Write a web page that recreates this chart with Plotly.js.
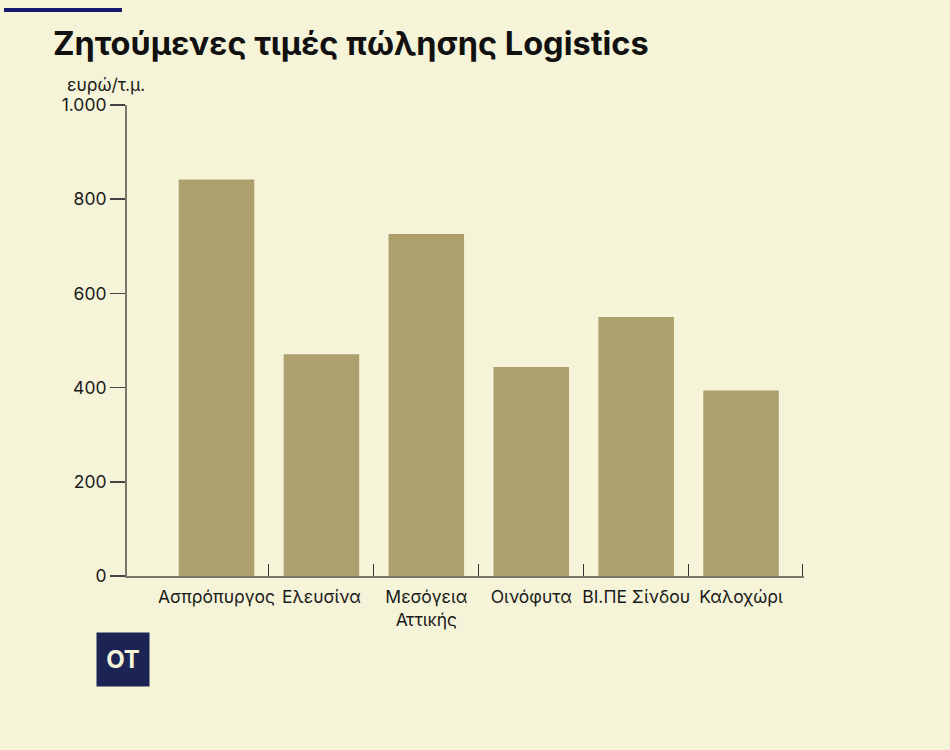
<!DOCTYPE html>
<html>
<head>
<meta charset="utf-8">
<script src="https://cdn.plot.ly/plotly-3.0.1.min.js"></script>
<style>html,body{margin:0;padding:0;background:#f6f4d8;}</style>
</head>
<body>
<div id="chart" style="width:950px;height:750px;"></div>
<script>
const categories = ["Ασπρόπυργος", "Ελευσίνα", "Μεσόγεια<br>Αττικής", "Οινόφυτα", "ΒΙ.ΠΕ Σίνδου", "Καλοχώρι"];
const values = [842, 471, 726, 444, 550, 394];
const yTickVals = [0, 200, 400, 600, 800, 1000];
const yTickText = ["0", "200", "400", "600", "800", "1.000"];
const boundaryTicks = [-0.85, 0.5, 1.5, 2.5, 3.5, 4.5, 5.585];

const W = 950, H = 750;
const L = 127, R = 146, T = 105, B = 174;
const pw = W - L - R, ph = H - T - B;
const px = x => (x - L) / pw;
const py = y => (H - B - y) / ph;

const bg = "#f6f4d8";
const font = "Inter, 'Noto Sans', sans-serif";

const data = [
  {type: "bar", x: categories, y: values, marker: {color: "#ada06e"}, width: 0.72, hoverinfo: "skip"},
  {type: "bar", x: categories.map((c, i) => i), y: values, xaxis: "x2", marker: {color: "rgba(0,0,0,0)"}, width: 0.72, hoverinfo: "skip", showlegend: false}
];

const layout = {
  width: W, height: H,
  paper_bgcolor: bg, plot_bgcolor: bg,
  margin: {l: L, r: R, t: T, b: B},
  showlegend: false,
  font: {family: font, color: "#1a1a1a", size: 17},
  xaxis: {
    type: "category", range: [-0.853, 5.6],
    showline: true, linecolor: "#77776a", linewidth: 2,
    ticks: "", tickfont: {size: 17.5, color: "#1a1a1a", family: font},
    ticklabelstandoff: 4,
    showgrid: false, zeroline: false, fixedrange: true
  },
  xaxis2: {
    overlaying: "x", anchor: "y", type: "linear", range: [-0.853, 5.6],
    tickmode: "array", tickvals: boundaryTicks, showticklabels: false,
    ticks: "inside", ticklen: 12, tickwidth: 1, tickcolor: "#333",
    showline: false, showgrid: false, zeroline: false, fixedrange: true
  },
  yaxis: {
    range: [0, 1000], tickmode: "array", tickvals: yTickVals, ticktext: yTickText,
    ticks: "outside", ticklen: 15, tickwidth: 1.5, tickcolor: "#444",
    showline: true, linecolor: "#77776a", linewidth: 2,
    showgrid: false, zeroline: false,
    tickfont: {size: 17.5, color: "#1a1a1a", family: font}, fixedrange: true
  },
  shapes: [
    {type: "line", xref: "paper", yref: "paper", x0: px(4), x1: px(122), y0: py(10), y1: py(10),
     line: {color: "#17176b", width: 4}}
  ],
  annotations: [
    {xref: "paper", yref: "paper", x: px(51), y: py(43), xanchor: "left", yanchor: "middle",
     text: "<b>Ζητούμενες τιμές πώλησης Logistics</b>", showarrow: false,
     font: {family: font, size: 32.5, color: "#111"}},
    {xref: "paper", yref: "paper", x: px(65), y: py(84), xanchor: "left", yanchor: "middle",
     text: "ευρώ/τ.μ.", showarrow: false, font: {family: font, size: 17.5, color: "#1a1a1a"}},
    {xref: "paper", yref: "paper", x: px(96), y: py(632), xanchor: "left", yanchor: "top",
     text: "<b>ΟΤ</b>", showarrow: false, width: 52, height: 53, bgcolor: "#1c2456",
     borderpad: 0, font: {family: font, size: 24, color: "#f6f4d8"}}
  ]
};

Plotly.newPlot("chart", data, layout, {displayModeBar: false, staticPlot: true});
</script>
</body>
</html>
